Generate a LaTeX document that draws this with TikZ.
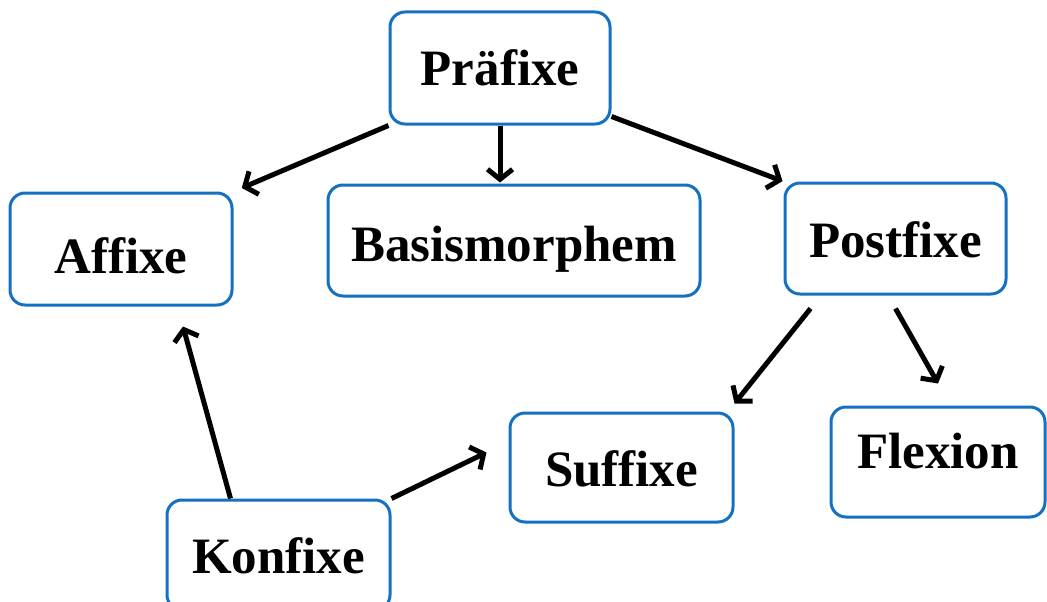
\documentclass[tikz,border=0pt]{standalone}
\usepackage{fontspec}
\setmainfont{Liberation Serif}
\usetikzlibrary{arrows.meta}
\definecolor{boxblue}{RGB}{20,112,192}
\tikzset{
  wbox/.style={draw=boxblue, line width=3pt, rounded corners=15pt, fill=white,
    inner sep=0pt, text depth=0pt, font=\fontsize{51}{60}\selectfont\bfseries},
  conn/.style={line width=5pt, -{Straight Barb[length=10pt,width=25pt]}}
}
\begin{document}
\begin{tikzpicture}[x=1pt,y=-1pt]
\useasboundingbox (0,0) rectangle (1047,602);
\node[wbox, text height=34pt, minimum width=220pt, minimum height=112pt] (pra) at (500,68) {Präfixe};
\node[wbox, text height=48pt, minimum width=222pt, minimum height=112pt] (aff) at (121,249) {Affixe};
\node[wbox, text height=41pt, minimum width=372pt, minimum height=111pt] (bas) at (514,240.5) {Basismorphem};
\node[wbox, text height=37pt, minimum width=221pt, minimum height=111pt] (post) at (895.5,238.5) {Postfixe};
\node[wbox, text height=37pt, minimum width=223pt, minimum height=109pt] (suf) at (621.5,467.5) {Suffixe};
\node[wbox, text height=12pt, minimum width=214pt, minimum height=110pt] (flex) at (938,462) {Flexion};
\node[wbox, text height=36pt, minimum width=223pt, minimum height=110pt] (konf) at (278.5,555) {Konfixe};

\draw[conn, shorten >=9pt] (pra.south west) -- (aff.north east);
\draw[conn, shorten >=1pt] (pra.south) -- (pra.south |- bas.north);
\draw[conn, shorten >=1pt] ([yshift=9pt]pra.south east) -- (post.north west);
\draw[conn] ([xshift=27pt,yshift=-13pt]post.south west) -- ([yshift=8pt]suf.north east);
\draw[conn] ([yshift=-13pt]post.south) -- ([yshift=22pt]flex.north);
\draw[conn] ([xshift=-48pt]konf.north) -- ([xshift=62pt,yshift=-20pt]aff.south);
\draw[conn] (konf.north east) -- ([xshift=-22pt,yshift=15pt]suf.west);
\end{tikzpicture}
\end{document}
